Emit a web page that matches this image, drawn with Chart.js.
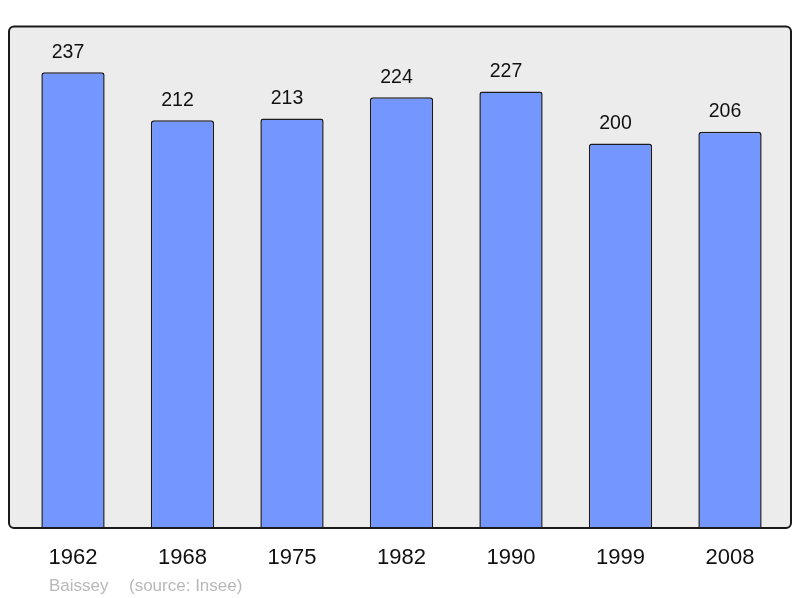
<!DOCTYPE html>
<html><head><meta charset="utf-8">
<script src="https://cdn.jsdelivr.net/npm/chart.js@4"></script>
<style>html,body{margin:0;padding:0;background:#fff}#c{display:block}</style>
</head><body>
<canvas id="c" width="800" height="598"></canvas>
<script>
const categories = ['1962','1968','1975','1982','1990','1999','2008'];
const population = [237,212,213,224,227,200,206];
const captionName = 'Baissey';
const captionSource = '(source: Insee)';

const framePlugin = {
  id: 'frame',
  beforeDatasetsDraw(chart) {
    const ctx = chart.ctx;
    ctx.save();
    ctx.beginPath();
    ctx.roundRect(9, 26.5, 782, 501.5, 5);
    ctx.fillStyle = '#ececec';
    ctx.fill();
    ctx.restore();
  },
  afterDatasetsDraw(chart) {
    const ctx = chart.ctx;
    const meta = chart.getDatasetMeta(0);
    const xs = chart.scales.x;
    ctx.save();
    ctx.beginPath();
    ctx.roundRect(9, 26.5, 782, 501.5, 5);
    ctx.lineWidth = 2;
    ctx.strokeStyle = '#1a1a1a';
    ctx.stroke();
    ctx.fillStyle = '#111';
    ctx.textAlign = 'center';
    ctx.textBaseline = 'alphabetic';
    ctx.font = '19.5px "Liberation Sans", Arial, sans-serif';
    meta.data.forEach((bar, i) => {
      ctx.fillText(String(population[i]), bar.x - 5, bar.y - 14.5);
    });
    ctx.font = '22px "Liberation Sans", Arial, sans-serif';
    categories.forEach((c, i) => {
      ctx.fillText(c, xs.getPixelForValue(i), 564);
    });
    ctx.fillStyle = '#b8b8b8';
    ctx.textAlign = 'left';
    ctx.font = '17px "Liberation Sans", Arial, sans-serif';
    ctx.fillText(captionName, 49, 591);
    ctx.fillText(captionSource, 129, 591);
    ctx.restore();
  }
};

new Chart(document.getElementById('c'), {
  type: 'bar',
  data: {
    labels: categories,
    datasets: [{
      data: population,
      backgroundColor: '#7396ff',
      borderColor: '#1a1a1a',
      borderWidth: 1.5,
      borderRadius: {topLeft: 3, topRight: 3, bottomLeft: 0, bottomRight: 0},
      borderSkipped: 'bottom',
      barPercentage: 0.578,
      categoryPercentage: 1
    }]
  },
  options: {
    responsive: false,
    animation: false,
    layout: {padding: {left: 18.25, right: 15.25, top: 28, bottom: 70}},
    plugins: {legend: {display: false}, tooltip: {enabled: false}},
    scales: {
      x: {display: false},
      y: {display: false, min: 0, max: 260}
    }
  },
  plugins: [framePlugin]
});
</script>
</body></html>
